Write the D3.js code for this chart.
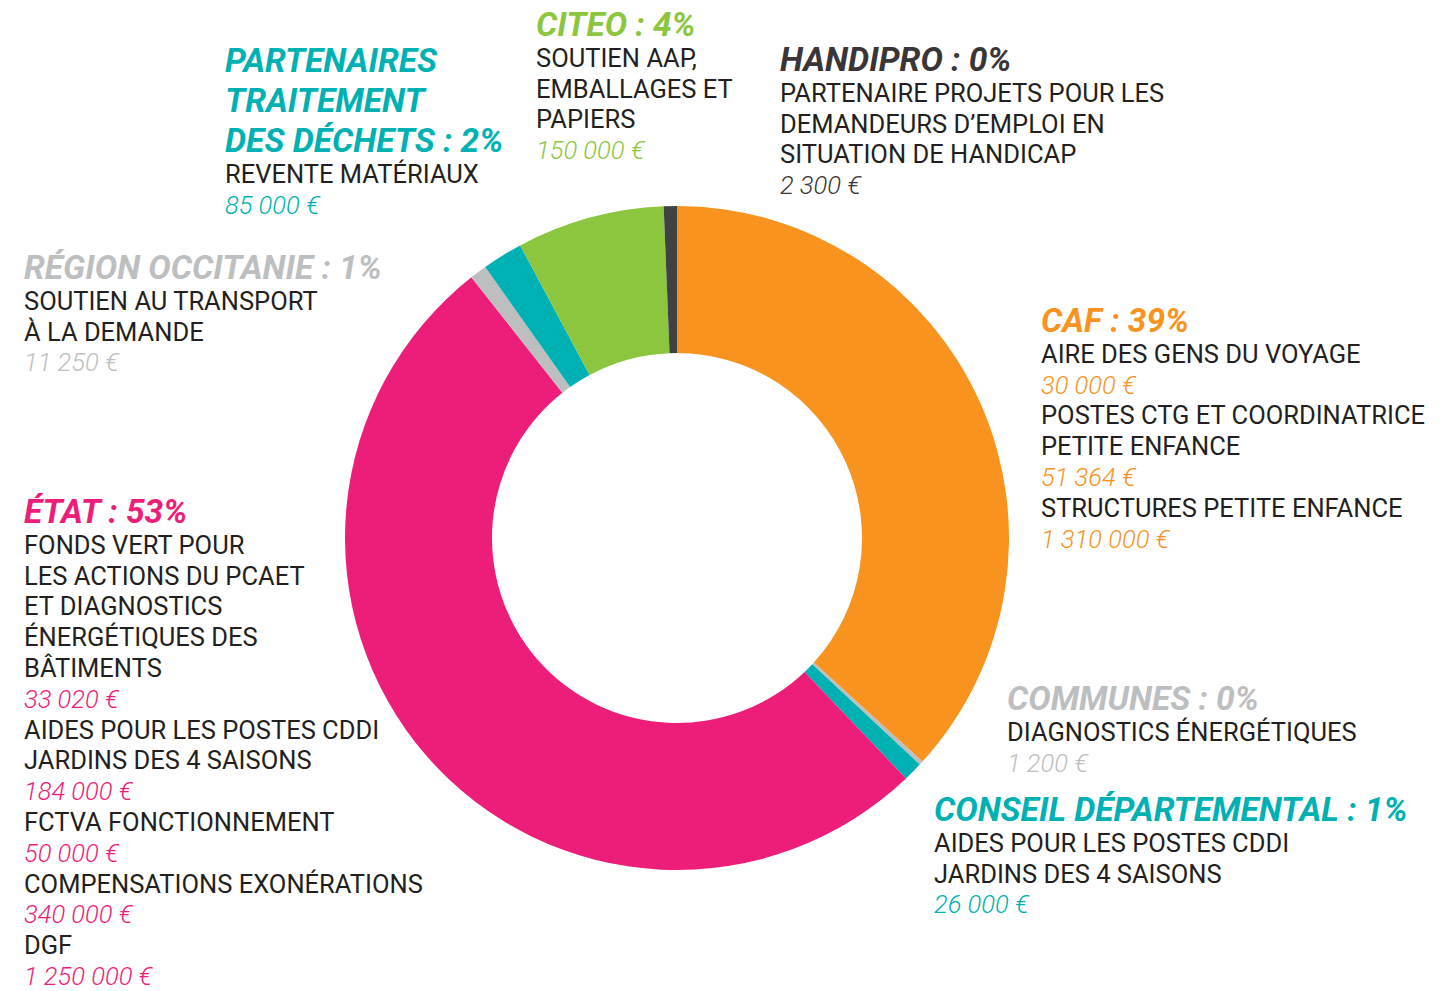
<!DOCTYPE html>
<html>
<head>
<meta charset="utf-8">
<script src="https://cdn.jsdelivr.net/npm/d3@7"></script>
<style>
  html, body { margin: 0; padding: 0; background: #ffffff; }
  svg { display: block; }
  text { font-family: Roboto, "Noto Sans", sans-serif; }
</style>
</head>
<body>
<div id="chart"></div>
<script>
// ---------- DATA ----------
// Ring segments, clockwise from 12 o'clock (share of the circle as drawn)
const segments = ["CAF", "COMMUNES", "CONSEIL DÉPARTEMENTAL", "ÉTAT", "RÉGION OCCITANIE",
                  "PARTENAIRES TRAITEMENT DES DÉCHETS", "CITEO", "HANDIPRO"];
const segmentShares = [36.75, 0.19, 0.94, 51.47, 0.83, 1.97, 7.19, 0.64];

// Labels
const funderTitles = [
  ["CAF : 39%"],
  ["COMMUNES : 0%"],
  ["CONSEIL DÉPARTEMENTAL : 1%"],
  ["ÉTAT : 53%"],
  ["RÉGION OCCITANIE : 1%"],
  ["PARTENAIRES", "TRAITEMENT", "DES DÉCHETS : 2%"],
  ["CITEO : 4%"],
  ["HANDIPRO : 0%"]
];
const cafItems = [
  { desc: ["AIRE DES GENS DU VOYAGE"], amount: "30 000 €" },
  { desc: ["POSTES CTG ET COORDINATRICE", "PETITE ENFANCE"], amount: "51 364 €" },
  { desc: ["STRUCTURES PETITE ENFANCE"], amount: "1 310 000 €" }
];
const communesItems = [
  { desc: ["DIAGNOSTICS ÉNERGÉTIQUES"], amount: "1 200 €" }
];
const conseilItems = [
  { desc: ["AIDES POUR LES POSTES CDDI", "JARDINS DES 4 SAISONS"], amount: "26 000 €" }
];
const etatItems = [
  { desc: ["FONDS VERT POUR", "LES ACTIONS DU PCAET", "ET DIAGNOSTICS", "ÉNERGÉTIQUES DES", "BÂTIMENTS"], amount: "33 020 €" },
  { desc: ["AIDES POUR LES POSTES CDDI", "JARDINS DES 4 SAISONS"], amount: "184 000 €" },
  { desc: ["FCTVA FONCTIONNEMENT"], amount: "50 000 €" },
  { desc: ["COMPENSATIONS EXONÉRATIONS"], amount: "340 000 €" },
  { desc: ["DGF"], amount: "1 250 000 €" }
];
const regionItems = [
  { desc: ["SOUTIEN AU TRANSPORT", "À LA DEMANDE"], amount: "11 250 €" }
];
const partenairesItems = [
  { desc: ["REVENTE MATÉRIAUX"], amount: "85 000 €" }
];
const citeoItems = [
  { desc: ["SOUTIEN AAP,", "EMBALLAGES ET", "PAPIERS"], amount: "150 000 €" }
];
const handiproItems = [
  { desc: ["PARTENAIRE PROJETS POUR LES", "DEMANDEURS D’EMPLOI EN", "SITUATION DE HANDICAP"], amount: "2 300 €" }
];
const funderItems = [cafItems, communesItems, conseilItems, etatItems, regionItems,
                     partenairesItems, citeoItems, handiproItems];

// ---------- STYLE / LAYOUT ----------
const W = 1455, H = 991;
const segColors = ["#F7931E", "#BCBEC0", "#00B1B3", "#ED1E79", "#BCBEC0", "#00B1B3", "#8CC63F", "#414042"];
const titleColors = ["#F7931E", "#BCBEC0", "#00B1B3", "#ED1E79", "#BCBEC0", "#00B1B3", "#8CC63F", "#3A3536"];
const amountColors = ["#F7931E", "#BCBEC0", "#00B1B3", "#ED1E79", "#BCBEC0", "#00B1B3", "#8CC63F", "#3A3536"];
// block anchors: x, baseline of first title line
const blockPos = [
  [1041, 332], [1007, 710], [934, 821], [24, 523],
  [24, 279], [225, 72], [536, 36], [780, 71]
];
const cx = 677, cy = 538, rOuter = 332, rInner = 185;
const titleSize = 33.5, titleLead = 40, bodySize = 25.5, bodyLead = 30.8;

const svg = d3.select("#chart").append("svg")
  .attr("width", W).attr("height", H).attr("viewBox", `0 0 ${W} ${H}`);

// ---------- DONUT ----------
const pie = d3.pie().sort(null).value(d => d)(segmentShares);
const arc = d3.arc().innerRadius(rInner).outerRadius(rOuter);
svg.append("g").attr("transform", `translate(${cx},${cy})`)
  .selectAll("path").data(pie).join("path")
  .attr("d", arc)
  .attr("fill", (d, i) => segColors[i]);

// ---------- LABELS ----------
funderTitles.forEach((titleLines, i) => {
  const [x, y0] = blockPos[i];
  const g = svg.append("g");
  let y = y0;
  titleLines.forEach((t, k) => {
    if (k > 0) y += titleLead;
    g.append("text").attr("x", x).attr("y", y)
      .attr("font-size", titleSize).attr("font-weight", 700).attr("font-style", "italic")
      .attr("fill", titleColors[i]).text(t);
  });
  y += bodyLead;
  funderItems[i].forEach(item => {
    item.desc.forEach(line => {
      g.append("text").attr("x", x).attr("y", y)
        .attr("font-size", bodySize).attr("font-weight", 400)
        .attr("fill", "#231F20").text(line);
      y += bodyLead;
    });
    g.append("text").attr("x", x).attr("y", y)
      .attr("font-size", bodySize).attr("font-weight", 300).attr("font-style", "italic")
      .attr("fill", amountColors[i]).text(item.amount);
    y += bodyLead;
  });
});
</script>
</body>
</html>
